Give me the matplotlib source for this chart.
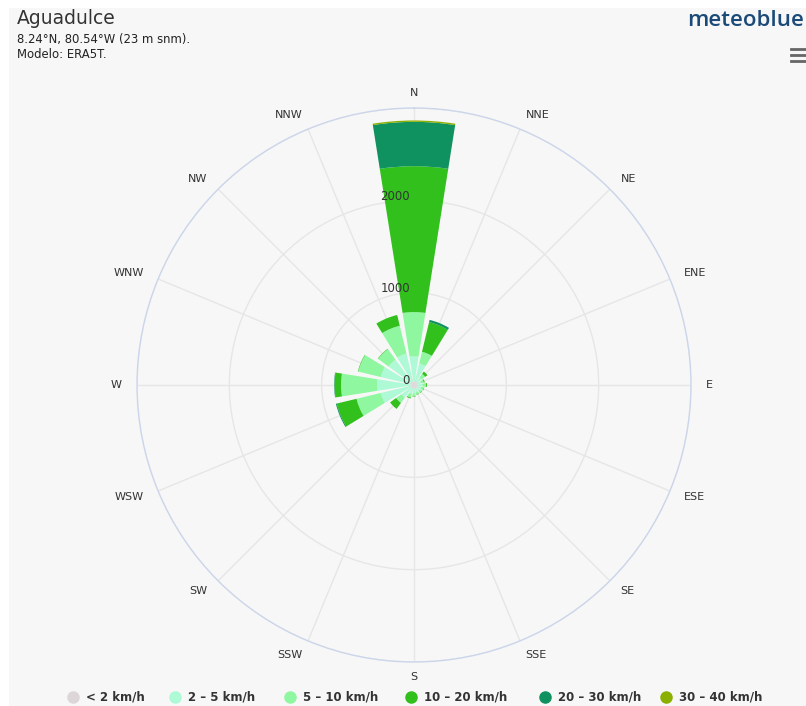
import numpy as np
import matplotlib.pyplot as plt
from matplotlib.lines import Line2D
from matplotlib.patches import Rectangle

plt.rcParams['font.family'] = ['DejaVu Sans']

W_PX, H_PX = 806, 706
DPI = 100

directions = ['N', 'NNE', 'NE', 'ENE', 'E', 'ESE', 'SE', 'SSE',
              'S', 'SSW', 'SW', 'WSW', 'W', 'WNW', 'NW', 'NNW']

speed_bins = ['< 2 km/h', '2 – 5 km/h', '5 – 10 km/h',
              '10 – 20 km/h', '20 – 30 km/h', '30 – 40 km/h']

bin_colors = ['#ddd6d9', '#aef9d6', '#8ef7a0', '#31c01c', '#109260', '#8cb000']

# hours per direction and speed class (read from the rose)
lt2 = [40, 40, 40, 40, 40, 40, 40, 40, 40, 40, 40, 40, 40, 40, 40, 40]
s2_5 = [270, 200, 60, 40, 50, 40, 40, 40, 50, 60, 130, 330, 360, 330, 300, 310]
s5_10 = [480, 130, 50, 30, 40, 30, 25, 25, 30, 40, 70, 270, 390, 250, 140, 310]
s10_20 = [1580, 330, 30, 10, 10, 5, 5, 5, 5, 10, 80, 220, 70, 5, 5, 120]
s20_30 = [480, 25, 0, 0, 0, 0, 0, 0, 0, 0, 0, 10, 5, 0, 0, 0]
s30_40 = [15, 0, 0, 0, 0, 0, 0, 0, 0, 0, 0, 0, 0, 0, 0, 0]

radial_ticks = [0, 1000, 2000]
r_max = 3000

series = [lt2, s2_5, s5_10, s10_20, s20_30, s30_40]

fig = plt.figure(figsize=(W_PX / DPI, H_PX / DPI), dpi=DPI)
fig.patch.set_facecolor('white')
fig.add_artist(Rectangle((9 / W_PX, 0), 1, 1 - 8 / H_PX, transform=fig.transFigure,
                         facecolor='#f7f7f7', edgecolor='none', zorder=-10))

# polar area: centre (414, 385), radius 277 px
cx, cy, R = 414, 385, 277
ax = fig.add_axes([(cx - R) / W_PX, (H_PX - cy - R) / H_PX, 2 * R / W_PX, 2 * R / H_PX],
                  projection='polar')
ax.set_facecolor('none')
ax.set_theta_zero_location('N')
ax.set_theta_direction(-1)
ax.set_ylim(0, r_max)

theta = np.deg2rad(np.arange(len(directions)) * 22.5)
width = np.deg2rad(22.5) * 0.8

bottom = np.zeros(len(directions))
for vals, col in zip(series, bin_colors):
    vals = np.array(vals, dtype=float)
    ax.bar(theta, vals, width=width, bottom=bottom, color=col,
           edgecolor='none', linewidth=0, zorder=3)
    bottom += vals

ax.set_xticks(theta)
ax.set_xticklabels([])
ax.set_yticks(radial_ticks[1:] + [r_max])
ax.set_yticklabels([])
ax.grid(True, color='#e6e6e6', linewidth=1)
ax.spines['polar'].set_color('#ccd6eb')
ax.spines['polar'].set_linewidth(1)
ax.tick_params(length=0)

# direction labels
r_lab = r_max * 292 / R
for th, name in zip(np.arange(len(directions)) * 22.5, directions):
    if th == 0 or th == 180:
        ha = 'center'
    elif th < 180:
        ha = 'left'
    else:
        ha = 'right'
    ax.text(np.deg2rad(th), r_lab, name, ha=ha, va='center', fontsize=8,
            color='#333333', clip_on=False)

# radial labels
for v in radial_ticks:
    ax.annotate(str(v), xy=(0, v), xytext=(-3, 3), textcoords='offset points',
                ha='right', va='center', fontsize=8.5, color='#333333', zorder=5)

# titles
fig.text(17 / W_PX, 1 - 19 / H_PX, 'Aguadulce', fontsize=13.5, color='#333333',
         ha='left', va='center')
fig.text(17 / W_PX, 1 - 40 / H_PX, '8.24°N, 80.54°W (23 m snm).', fontsize=8.4,
         color='#222222', ha='left', va='center')
fig.text(17 / W_PX, 1 - 55 / H_PX, 'Modelo: ERA5T.', fontsize=8.4,
         color='#222222', ha='left', va='center')

fig.text(804 / W_PX, 1 - 20 / H_PX, 'meteoblue', fontsize=16, color='#1c4a78',
         fontweight='semibold', family='Open Sans', ha='right', va='center')

for yy in [49, 55, 61]:
    fig.add_artist(Line2D([791 / W_PX, 806 / W_PX], [1 - yy / H_PX, 1 - yy / H_PX],
                          transform=fig.transFigure, color='#666666', linewidth=2))

# legend
legend_x = [73, 175, 290, 411, 545, 666]
ly = 1 - 697 / H_PX
for x, lab, col in zip(legend_x, speed_bins, bin_colors):
    fig.add_artist(Line2D([x / W_PX], [ly], marker='o', markersize=8, color=col,
                          linestyle='none', transform=fig.transFigure))
    fig.text((x + 13) / W_PX, ly, lab, fontsize=8.5, fontweight='bold',
             color='#333333', ha='left', va='center')

fig.savefig('out.png', dpi=DPI, facecolor=fig.get_facecolor())
